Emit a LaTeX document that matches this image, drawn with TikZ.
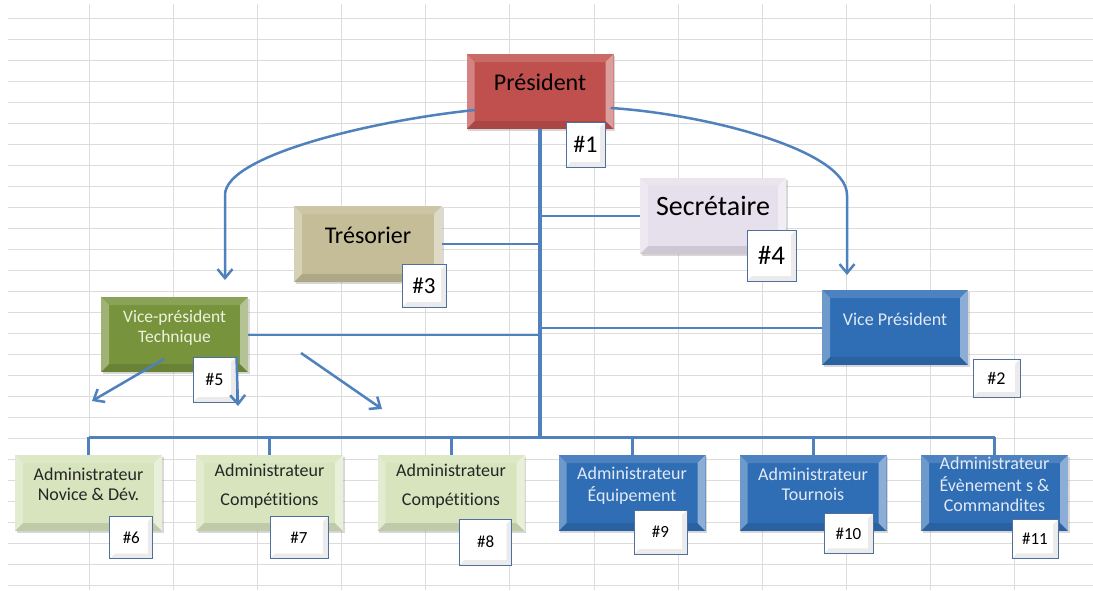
\documentclass[tikz,border=0pt]{standalone}
\usepackage{fontspec}
\setmainfont{Carlito}[Ligatures=NoCommon]
\usepackage{tikz}
\usetikzlibrary{positioning, shadows, arrows.meta}

\definecolor{gridgrey}{HTML}{DCDCDC}
\definecolor{linkblue}{HTML}{4F81BD}
\definecolor{presred}{HTML}{C0504D}
\definecolor{treskhaki}{HTML}{C4BD97}
\definecolor{secrlilac}{HTML}{E6E0EC}
\definecolor{techgreen}{HTML}{77933C}
\definecolor{adminblue}{HTML}{2F6DB5}
\definecolor{admingreen}{HTML}{D7E4BD}
\definecolor{tagblue}{HTML}{4F6F9F}
\definecolor{paleblue}{HTML}{E2EAF5}
\definecolor{palegreen}{HTML}{EEF3E0}

% texte un peu remonte dans les boites
\newcommand{\lifted}[1]{\raisebox{6.5pt}[\height][\depth]{\begin{tabular}{@{}c@{}}#1\end{tabular}}}

\tikzset{
  gridline/.style={draw=gridgrey, line width=0.8pt},
  bevelbox/.style={minimum width=147pt, minimum height=76pt, inner sep=0pt,
    drop shadow={shadow xshift=1.5pt, shadow yshift=-2pt, opacity=.3},
    path picture={
      \fill[white, opacity=.30] (path picture bounding box.south west) -- (path picture bounding box.north west)
        -- ([shift={(8pt,-8pt)}]path picture bounding box.north west) -- ([shift={(8pt,8pt)}]path picture bounding box.south west) -- cycle;
      \fill[white, opacity=.15] (path picture bounding box.north west) -- (path picture bounding box.north east)
        -- ([shift={(-8pt,-8pt)}]path picture bounding box.north east) -- ([shift={(8pt,-8pt)}]path picture bounding box.north west) -- cycle;
      \fill[white, opacity=.45] (path picture bounding box.north east) -- (path picture bounding box.south east)
        -- ([shift={(-8pt,8pt)}]path picture bounding box.south east) -- ([shift={(-8pt,-8pt)}]path picture bounding box.north east) -- cycle;
      \fill[black, opacity=.11] (path picture bounding box.south east) -- (path picture bounding box.south west)
        -- ([shift={(8pt,8pt)}]path picture bounding box.south west) -- ([shift={(-8pt,8pt)}]path picture bounding box.south east) -- cycle;
    }},
  admin/.style={bevelbox, font=\fontsize{18}{20}\selectfont},
  greenadmin/.style={admin, fill=admingreen, text=black!85},
  blueadmin/.style={admin, fill=adminblue, text=paleblue},
  tag/.style={draw=tagblue, line width=1pt, fill=white, inner sep=0pt, text=black,
    path picture={
      \fill[black!8] (path picture bounding box.north east) -- (path picture bounding box.south east)
        -- (path picture bounding box.south west) -- ([shift={(5pt,5pt)}]path picture bounding box.south west)
        -- ([shift={(-5pt,5pt)}]path picture bounding box.south east) -- ([shift={(-5pt,-5pt)}]path picture bounding box.north east) -- cycle;
    }},
  smalltag/.style={tag, font=\fontsize{17}{20}\selectfont},
  trunk/.style={linkblue, line width=4pt},
  bus/.style={linkblue, line width=3pt},
  link/.style={linkblue, line width=2pt},
  flow/.style={linkblue, line width=2.5pt, -{Straight Barb[length=9pt, width=15pt]}}
}

\begin{document}
\begin{tikzpicture}[x=1pt, y=-1pt]
\useasboundingbox[fill=white] (0,0) rectangle (1093,590);

% grille du tableur
\foreach \k in {0,...,27}
  \draw[gridline] (8,18.3+21*\k) -- (1093,18.3+21*\k);
\foreach \k in {0,...,11}
  \draw[gridline] (89.3+84.1*\k,4) -- (89.3+84.1*\k,590);

% postes
\node[bevelbox, fill=presred, minimum height=75pt, font=\fontsize{24}{28}\selectfont] (pres) at (540,91.5) {\lifted{Président}};
\node[bevelbox, fill=secrlilac, minimum width=146pt, font=\fontsize{28}{32}\selectfont] (secr) at (713,216) {\lifted{Secrétaire}};
\node[bevelbox, fill=treskhaki, minimum width=148pt, font=\fontsize{24}{28}\selectfont] (tres) at (368,244) {\lifted{Trésorier}};
\node[bevelbox, fill=techgreen, minimum height=75pt, text=palegreen, font=\fontsize{17.5}{20}\selectfont] (vpt) at (174.5,334.5) {\lifted{Vice-président\\Technique}};
\node[bevelbox, fill=adminblue, minimum width=146pt, minimum height=75pt, text=paleblue, font=\fontsize{18}{21}\selectfont] (vp) at (895,327.5) {\lifted{Vice Président}};

\node[greenadmin] (novice) at (88.5,493) {\lifted{Administrateur\\Novice \& Dév.}};
\node[greenadmin] (compA) at (269.5,493) {\lifted{Administrateur\\[9pt]Compétitions}};
\node[greenadmin] (compB) at (451,493) {\lifted{Administrateur\\[9pt]Compétitions}};
\node[blueadmin] (equip) at (632,493) {\lifted{Administrateur\\Équipement}};
\node[blueadmin] (tourn) at (813,493) {\lifted{Administrateur\\Tournois}};
\node[blueadmin] (event) at (994.5,493) {\lifted{Administrateur\\Évènement s \&\\Commandites}};

% liaisons
\coordinate (hub) at (540,437);
\draw[trunk] (pres.south) -- (hub);
\draw[link] (tres.east) -- (tres.east -| pres);
\draw[link] (secr.west -| pres) -- (secr.west);
\draw[link] (vpt.east) -- (vpt.east -| pres);
\draw[link] (vp.west -| pres) -- (vp.west);
\draw[bus] (novice.north |- hub) -- (event.north |- hub);
\foreach \b in {novice, compA, compB, equip, tourn, event}
  \draw[bus] (\b.north) -- (\b.north |- hub);

% numeros
\node[tag, minimum width=39pt, minimum height=45pt, font=\fontsize{24}{28}\selectfont] (num1) at (585.5,144.5) {\#1};
\node[tag, minimum width=47pt, minimum height=38pt, font=\fontsize{18}{21}\selectfont] (num2) at (996.5,378) {\#2};
\node[tag, minimum width=44pt, minimum height=43pt, font=\fontsize{23}{27}\selectfont] (num3) at (424,285.5) {\#3};
\node[tag, minimum width=49pt, minimum height=51pt, font=\fontsize{27}{31}\selectfont] (num4) at (771.5,255.5) {\#4};
\node[tag, minimum width=43pt, minimum height=45pt, font=\fontsize{18}{21}\selectfont] (num5) at (214.5,379.5) {\#5};
\node[smalltag, minimum width=43pt, minimum height=42pt] (num6) at (131.3,537.5) {\#6};
\node[smalltag, minimum width=58pt, minimum height=42pt] (num7) at (299,537.5) {\#7};
\node[smalltag, minimum width=52pt, minimum height=46pt] (num8) at (485.6,542) {\#8};
\node[smalltag, minimum width=53pt, minimum height=44pt] (num9) at (660.5,532) {\#9};
\node[smalltag, minimum width=49pt, minimum height=40pt] (num10) at (848.5,533.4) {\#10};
\node[smalltag, minimum width=46pt, minimum height=39pt] (num11) at (1035,538.8) {\#11};

% fleches
\coordinate (vpttip) at (225,280);
\coordinate (vptip) at (847,275);
\draw[flow] ([xshift=9pt,yshift=-18.5pt]pres.west) .. controls (376,120) and (225,155) .. (225,195) -- (vpttip);
\draw[flow] ([xshift=-3pt,yshift=-16.5pt]pres.east) .. controls (705,114) and (847,150) .. (847,195) -- (vptip);

\coordinate (novstart) at (164,359);
\coordinate (novtip) at (92,401);
\coordinate (comptip) at (238,406);
\coordinate (compstart) at (301,353);
\coordinate (compBtip) at (382,409);
\draw[flow] (novstart) -- (novtip);
\draw[flow] (num5.north east) -- (comptip);
\draw[flow] (compstart) -- (compBtip);
\end{tikzpicture}
\end{document}
